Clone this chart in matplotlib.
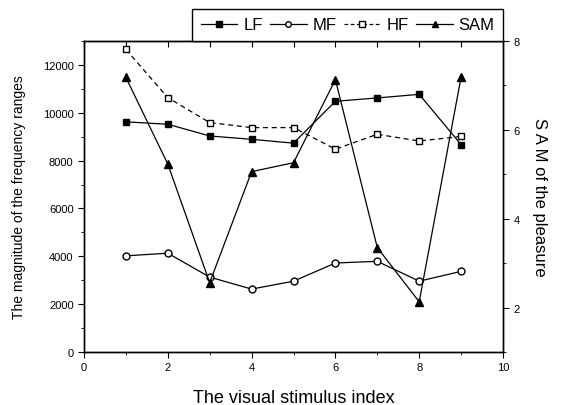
import numpy as np
import matplotlib.pyplot as plt
from matplotlib.lines import Line2D
from matplotlib.ticker import MultipleLocator

plt.rcParams['font.family'] = ['Liberation Sans', 'DejaVu Sans']

# ============= data =============
stimulus = [1, 2, 3, 4, 5, 6, 7, 8, 9]
lf = [9620, 9520, 9030, 8890, 8730, 10480, 10620, 10770, 8670]
mf = [4020, 4130, 3130, 2630, 2960, 3720, 3790, 2960, 3370]
hf = [12650, 10630, 9590, 9380, 9380, 8480, 9100, 8820, 9010]
sam = [7.18, 5.23, 2.56, 5.06, 5.26, 7.13, 3.35, 2.13, 7.19]

fig = plt.figure(figsize=(5.61, 4.06), dpi=100)
ax = fig.add_axes([84/561, 1 - 353/406, (503-84)/561, (353-42)/406])
ax2 = ax.twinx()

# main series, left axis
ax.plot(stimulus, lf, '-', color='black', lw=0.9, marker='s', ms=5, mfc='black', mec='black')
ax.plot(stimulus, mf, '-', color='black', lw=0.9, marker='o', ms=5, mfc='white', mec='black')
ax.plot(stimulus, hf, '--', color='black', lw=0.9, marker='s', ms=5, mfc='white', mec='black', dashes=(4, 3))
# SAM on the right axis
ax2.plot(stimulus, sam, '-', color='black', lw=0.9, marker='^', ms=6, mfc='black', mec='black')

ax.set_xlim(0, 10)
ax.set_ylim(0, 13000)
ax2.set_ylim(1, 8)

ax.xaxis.set_major_locator(MultipleLocator(2))
ax.xaxis.set_minor_locator(MultipleLocator(1))
ax.yaxis.set_major_locator(MultipleLocator(2000))
ax.yaxis.set_minor_locator(MultipleLocator(1000))
ax2.yaxis.set_major_locator(MultipleLocator(2))
ax2.yaxis.set_minor_locator(MultipleLocator(1))

ax.tick_params(axis='x', which='both', direction='out', top=False, labelsize=8)
ax.tick_params(axis='x', which='major', length=4)
ax.tick_params(axis='x', which='minor', length=2.5)
ax.tick_params(axis='y', which='major', direction='out', length=4, labelsize=8)
ax.tick_params(axis='y', which='minor', direction='out', length=2.5)
ax2.tick_params(axis='y', which='major', direction='out', length=4, labelsize=8)
ax2.tick_params(axis='y', which='minor', direction='out', length=2.5)

# top ticks point inward, one per stimulus
sec = ax.secondary_xaxis('top')
sec.xaxis.set_major_locator(MultipleLocator(1))
sec.tick_params(direction='in', length=4, labeltop=False)

for a in (ax, ax2):
    for s in a.spines.values():
        s.set_linewidth(1.0)

ax.set_xlabel("The visual stimulus index", fontsize=13, labelpad=12)
ax.set_ylabel("The magnitude of the frequency ranges", fontsize=10, labelpad=12)
ax2.set_ylabel("S A M of the pleasure", fontsize=12, rotation=270, labelpad=20)

handles = [
    Line2D([], [], color='black', lw=0.9, marker='s', ms=4, mfc='black'),
    Line2D([], [], color='black', lw=0.9, marker='o', ms=4, mfc='white'),
    Line2D([], [], color='black', lw=0.9, ls='--', marker='s', ms=4, mfc='white', dashes=(3, 2)),
    Line2D([], [], color='black', lw=0.9, marker='^', ms=5, mfc='black'),
]
leg = fig.legend(handles, ['LF', 'MF', 'HF', 'SAM'], ncol=4, fontsize=12,
                 loc='upper right', bbox_to_anchor=(503/561, 1 - 10/406),
                 frameon=True, fancybox=False, edgecolor='black', framealpha=1,
                 handlelength=2.2, handletextpad=0.35, columnspacing=0.45,
                 borderpad=0.5, borderaxespad=0)
leg.get_frame().set_linewidth(1.0)

fig.savefig('out.png', dpi=100)
